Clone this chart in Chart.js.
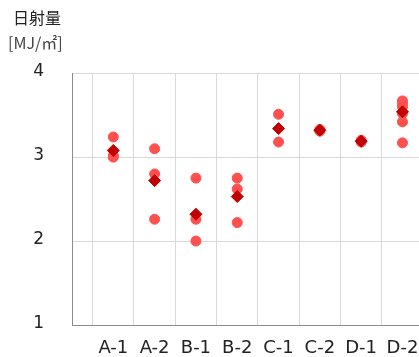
<!DOCTYPE html>
<html><head><meta charset="utf-8">
<script src="https://cdn.jsdelivr.net/npm/chart.js@4/dist/chart.umd.min.js"></script>
<style>html,body{margin:0;padding:0;background:#fff;} #wrap{width:419px;height:357px;}</style>
</head><body><div id="wrap"><canvas id="c" width="419" height="357"></canvas></div>
<script>
const categories = ['A-1', 'A-2', 'B-1', 'B-2', 'C-1', 'C-2', 'D-1', 'D-2'];
const individualValues = [
  [3.24, 3.02, 3.00],
  [3.10, 2.80, 2.26],
  [2.75, 2.26, 2.00],
  [2.75, 2.62, 2.22],
  [3.51, 3.18],
  [3.33, 3.31],
  [3.20, 3.18],
  [3.67, 3.64, 3.60, 3.52, 3.42, 3.17]
];
const meanValues = [3.08, 2.72, 2.32, 2.53, 3.34, 3.32, 3.19, 3.54];
const yTicks = [1, 2, 3, 4];
const yTitle = '日射量';
const yUnit = '[MJ/㎡]';

const pointsIndividual = [];
individualValues.forEach((vals, i) => vals.forEach(v => pointsIndividual.push({x: i + 1, y: v})));
const pointsMean = meanValues.map((v, i) => ({x: i + 1, y: v}));
const xMax = 8.4;

new Chart(document.getElementById('c'), {
  type: 'scatter',
  data: {
    datasets: [
      { label: '平均', data: pointsMean, pointStyle: 'rectRot', pointRadius: 6,
        backgroundColor: '#c00000', borderColor: '#c00000', borderWidth: 1 },
      { label: '測定値', data: pointsIndividual, pointStyle: 'circle', pointRadius: 5,
        backgroundColor: '#ff5050', borderColor: '#ff5050', borderWidth: 1 }
    ]
  },
  options: {
    responsive: false,
    animation: false,
    devicePixelRatio: 1,
    layout: { autoPadding: false, padding: { left: 8, right: 0, top: 0, bottom: 0 } },
    plugins: {
      legend: { display: false },
      tooltip: { enabled: false },
      title: {
        display: true, text: ' ' + yTitle, align: 'start', color: '#222',
        font: { family: "'DejaVu Sans', 'Noto Sans CJK JP'", size: 16, weight: 'normal' },
        padding: { top: 10, bottom: 0 }
      },
      subtitle: {
        display: true, text: yUnit, align: 'start', color: '#444',
        font: { family: "'Noto Sans CJK JP'", size: 16, weight: 'normal' },
        padding: { top: 4.3, bottom: 20.5 }
      }
    },
    scales: {
      x: {
        type: 'linear', min: 0, max: xMax,
        afterBuildTicks: (scale) => {
          const t = [];
          for (let i = 0; i < categories.length; i++) { t.push({ value: i + 0.5 }); t.push({ value: i + 1 }); }
          scale.ticks = t.filter(o => o.value <= xMax);
        },
        ticks: {
          autoSkip: false, minRotation: 0, maxRotation: 0, padding: 12.8, color: '#222',
          font: { family: "'DejaVu Sans'", size: 18 },
          callback: (value) => Number.isInteger(value) ? categories[value - 1] : ''
        },
        grid: {
          drawTicks: false,
          color: (ctx) => (ctx.tick && Number.isInteger(ctx.tick.value)) ? 'rgba(0,0,0,0)' : '#d9d9d9'
        },
        border: { color: '#8c8c8c', width: 1 },
        afterFit: (s) => { s.height = 32; s.paddingLeft = 0; s.paddingRight = 0; }
      },
      y: {
        min: 1, max: 4,
        afterBuildTicks: (scale) => { scale.ticks = yTicks.map(v => ({ value: v })); },
        ticks: {
          padding: 28, labelOffset: -1.5, color: '#222',
          font: { family: "'DejaVu Sans'", size: 17 }
        },
        grid: {
          drawTicks: false,
          color: (ctx) => (ctx.tick && ctx.tick.value === 1) ? 'rgba(0,0,0,0)' : '#d9d9d9'
        },
        border: { color: '#8c8c8c', width: 1 },
        afterFit: (s) => { s.width = 64; s.paddingTop = 0; s.paddingBottom = 0; }
      }
    }
  }
});
</script>
</body></html>
